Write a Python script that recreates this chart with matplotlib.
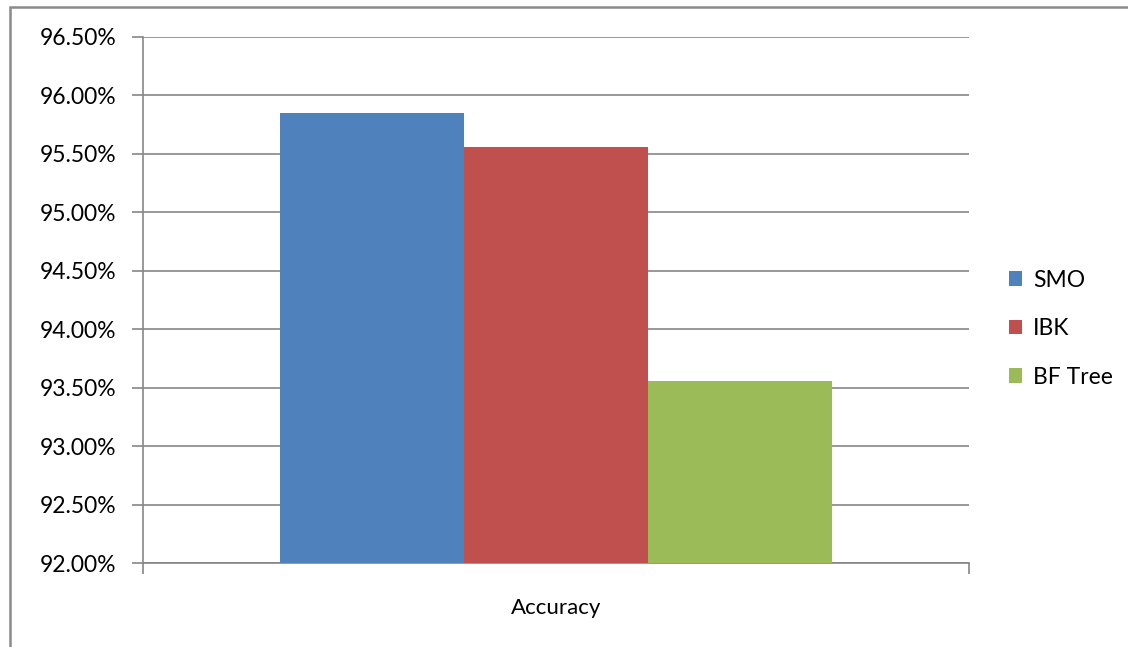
import matplotlib.pyplot as plt
from matplotlib.patches import Rectangle
from matplotlib.ticker import FuncFormatter, MultipleLocator

# accuracy of each classifier (%)
classifiers = ['SMO', 'IBK', 'BF Tree']
accuracy = [95.85, 95.56, 93.56]
colors = ['#4F81BD', '#C0504D', '#9BBB59']
category = 'Accuracy'

plt.rcParams['font.family'] = ['Lato', 'DejaVu Sans']

W, H = 1128, 647
fig = plt.figure(figsize=(W / 100, H / 100), dpi=100)
ax = fig.add_axes([143 / W, 1 - 563 / H, (969 - 143) / W, (563 - 36.7) / H])

grid_c = '#868686'
bw = 0.2225
for i, (name, val, c) in enumerate(zip(classifiers, accuracy, colors)):
    ax.bar((i - 1) * bw, val - 92.0, bottom=92.0, width=bw, color=c,
           label=name, zorder=3)

ax.set_xlim(-0.5, 0.5)
ax.set_ylim(92.0, 96.5)
ax.yaxis.set_major_locator(MultipleLocator(0.5))
ax.yaxis.set_major_formatter(FuncFormatter(lambda v, p: f'{v:.2f}%'))
ax.grid(axis='y', color=grid_c, linewidth=1.2, zorder=0)

ax.set_xticks([-0.5, 0.5])
ax.set_xticklabels(['', ''])
ax.tick_params(axis='x', direction='out', length=8, color=grid_c, width=1.2)
ax.tick_params(axis='y', direction='out', length=8, color=grid_c, width=1.2,
               labelsize=16.5, pad=11)
for s in ['top', 'right']:
    ax.spines[s].set_visible(False)
for s in ['left', 'bottom']:
    ax.spines[s].set_color(grid_c)
    ax.spines[s].set_linewidth(1.2)

ax.text(0.5, -0.085, category, transform=ax.transAxes, ha='center',
        va='center', fontsize=16)

ax.legend(loc='center left', bbox_to_anchor=(1.037, 0.445), frameon=False,
          fontsize=16.5, handlelength=0.6, handleheight=0.6, handletextpad=0.45,
          labelspacing=1.2, borderaxespad=0)

# chart border (only the top and left edges fall inside the image)
fig.patches.append(Rectangle((9.5 / W, -0.1), 1.2, 1.1 - 6.5 / H,
                             transform=fig.transFigure, fill=False,
                             edgecolor='#8a8a8a', linewidth=1.8))

fig.savefig('out.png', dpi=100)
